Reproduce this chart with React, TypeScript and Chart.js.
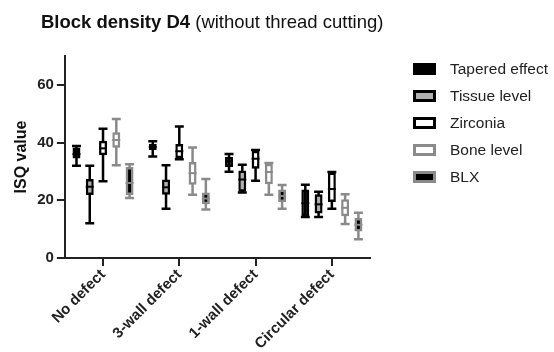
import React, { useEffect, useRef } from "react";
import { Chart, registerables } from "chart.js";

Chart.register(...registerables);

const FONT = '"Liberation Sans", Arial, Helvetica, sans-serif';

const categories = ["No defect", "3-wall defect", "1-wall defect", "Circular defect"];
const seriesNames = ["Tapered effect", "Tissue level", "Zirconia", "Bone level", "BLX"];

// Each entry: [min, q1, median, q3, max] per category
const taperedEffect = [
  [32, 34.5, 36, 38.3, 38.8],
  [35.2, 37.4, 38.5, 39.6, 40.5],
  [29.9, 31.5, 33.5, 35, 36],
  [14.2, 14.5, 19, 23.7, 25.4],
];
const tissueLevel = [
  [12, 21.8, 24.7, 27.4, 32],
  [17.1, 21.9, 24.5, 27.2, 32.1],
  [22.7, 23, 27.2, 30.3, 32.3],
  [14.2, 15.4, 18.6, 22.1, 23],
];
const zirconia = [
  [26.6, 35.6, 38, 40.6, 44.8],
  [34.2, 34.6, 37, 39.5, 45.6],
  [26.8, 30.9, 34.4, 37.2, 37.4],
  [17.1, 19.4, 23.9, 29.6, 29.8],
];
const boneLevel = [
  [32.1, 38.2, 40.9, 43.6, 48.2],
  [21.9, 25.4, 29.4, 33.3, 38.3],
  [21.9, 25.6, 29.8, 32.7, 32.9],
  [11.8, 14.5, 17.4, 20.4, 22.1],
];
const blx = [
  [20.8, 21.8, 26, 31.5, 32.5],
  [16.8, 18.6, 20.6, 22.7, 27.4],
  [17.1, 19.4, 21.5, 23.7, 25.3],
  [6.5, 9.2, 11.5, 13.9, 15.7],
];

const yTicks = [0, 20, 40, 60];
const yMin = 0;
const yMax = 70;

const titleBold = "Block density D4";
const titleNormal = " (without thread cutting)";
const yTitle = "ISQ value";

const allStats = [taperedEffect, tissueLevel, zirconia, boneLevel, blx];
const fills = ["#000000", "#b0b0b0", "#ffffff", "#ffffff", "#000000"];
const strokes = ["#000000", "#000000", "#000000", "#8a8a8a", "#8a8a8a"];

const boxPlugin = {
  id: "boxWhiskers",
  beforeDatasetsDraw(chart: any) {
    const ctx = chart.ctx;
    const ys = chart.scales.y;
    chart.data.datasets.forEach((ds: any, di: number) => {
      const meta = chart.getDatasetMeta(di);
      meta.data.forEach((el: any, i: number) => {
        const s = ds.stats[i];
        const { x, width } = el.getProps(["x", "width"], true);
        const pMin = ys.getPixelForValue(s[0]);
        const pMax = ys.getPixelForValue(s[4]);
        const capW = width + 1;
        ctx.save();
        ctx.strokeStyle = ds.borderColor;
        ctx.lineWidth = 2.5;
        ctx.lineCap = "butt";
        ctx.beginPath();
        ctx.moveTo(x, pMin);
        ctx.lineTo(x, pMax);
        ctx.moveTo(x - capW / 2, pMin);
        ctx.lineTo(x + capW / 2, pMin);
        ctx.moveTo(x - capW / 2, pMax);
        ctx.lineTo(x + capW / 2, pMax);
        ctx.stroke();
        ctx.restore();
      });
    });
  },
  afterDatasetsDraw(chart: any) {
    const ctx = chart.ctx;
    const ys = chart.scales.y;
    chart.data.datasets.forEach((ds: any, di: number) => {
      const meta = chart.getDatasetMeta(di);
      meta.data.forEach((el: any, i: number) => {
        const s = ds.stats[i];
        const { x, width } = el.getProps(["x", "width"], true);
        const pMed = ys.getPixelForValue(s[2]);
        ctx.save();
        ctx.strokeStyle = ds.borderColor;
        ctx.lineWidth = 2;
        ctx.beginPath();
        ctx.moveTo(x - width / 2, pMed);
        ctx.lineTo(x + width / 2, pMed);
        ctx.stroke();
        ctx.restore();
      });
    });
  },
  afterDraw(chart: any) {
    const ctx = chart.ctx;
    ctx.save();
    // Title
    ctx.fillStyle = "#111";
    ctx.textBaseline = "middle";
    ctx.textAlign = "left";
    ctx.font = `bold 18.5px ${FONT}`;
    const tx = 41;
    const ty = 23;
    ctx.fillText(titleBold, tx, ty);
    const w = ctx.measureText(titleBold).width;
    ctx.font = `18.5px ${FONT}`;
    ctx.fillText(titleNormal, tx + w, ty);

    // Legend
    const lx = 413;
    const ly0 = 69;
    const step = 27;
    const bw = 23;
    const bh = 12;
    chart.data.datasets.forEach((ds: any, i: number) => {
      const cy = ly0 + step * i;
      const top = cy - bh / 2;
      const b = 3;
      ctx.fillStyle = ds.borderColor;
      ctx.fillRect(lx, top, bw, bh);
      ctx.fillStyle = ds.backgroundColor;
      ctx.fillRect(lx + b, top + b, bw - 2 * b, bh - 2 * b);
      ctx.fillStyle = "#222";
      ctx.font = `15.5px ${FONT}`;
      ctx.textBaseline = "middle";
      ctx.fillText(ds.label, 450, cy + 0.5);
    });
    ctx.restore();
  },
};

export default function App() {
  const ref = useRef<HTMLCanvasElement | null>(null);

  useEffect(() => {
    if (!ref.current) return;
    const chart = new Chart(ref.current, {
      type: "bar",
      data: {
        labels: categories,
        datasets: allStats.map((stats, i) => ({
          label: seriesNames[i],
          data: stats.map((s) => [s[1], s[3]]),
          stats,
          backgroundColor: fills[i],
          borderColor: strokes[i],
          borderWidth: 2.5,
          borderSkipped: false,
          categoryPercentage: 0.87,
          barPercentage: 0.6,
        })) as any,
      },
      options: {
        responsive: false,
        animation: false,
        layout: { padding: { top: 56, left: 8, right: 184, bottom: -1 } },
        plugins: {
          legend: { display: false },
          title: { display: false },
          tooltip: { enabled: false },
        },
        scales: {
          x: {
            offset: true,
            ticks: {
              color: "#222",
              font: { family: FONT, size: 15, weight: "bold" },
              minRotation: 45,
              maxRotation: 45,
              padding: 0,
            },
            grid: {
              offset: false,
              drawOnChartArea: false,
              drawTicks: true,
              tickLength: 8,
              color: "#222",
              lineWidth: 2,
            },
            border: { display: true, color: "#222", width: 2 },
          },
          y: {
            min: yMin,
            max: yMax,
            afterBuildTicks: (scale: any) => {
              scale.ticks = yTicks.map((v) => ({ value: v }));
            },
            ticks: {
              color: "#222",
              font: { family: FONT, size: 15, weight: "bold" },
              padding: 3,
            },
            grid: {
              drawOnChartArea: false,
              drawTicks: true,
              tickLength: 8,
              color: "#222",
              lineWidth: 2,
            },
            border: { display: true, color: "#222", width: 2 },
            title: {
              display: true,
              text: yTitle,
              color: "#111",
              font: { family: FONT, size: 16, weight: "bold" },
              padding: { top: 4, bottom: 3 },
            },
          },
        },
      } as any,
      plugins: [boxPlugin],
    });
    return () => chart.destroy();
  }, []);

  return (
    <div style={{ position: "absolute", left: 0, top: 0, width: 554, height: 352, background: "#fff" }}>
      <canvas ref={ref} width={554} height={352} />
    </div>
  );
}
